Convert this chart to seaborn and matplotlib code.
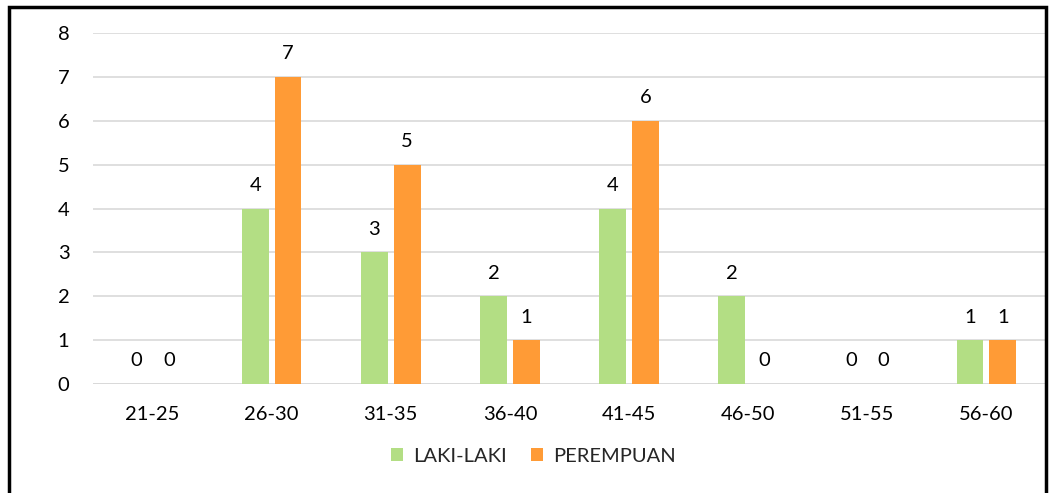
import numpy as np
import pandas as pd
import matplotlib
matplotlib.use("Agg")
import matplotlib.pyplot as plt
from matplotlib.patches import Rectangle
import seaborn as sns

# data
kelompok_umur = ['21-25', '26-30', '31-35', '36-40', '41-45', '46-50', '51-55', '56-60']
laki_laki = [0, 4, 3, 2, 4, 2, 0, 1]
perempuan = [0, 7, 5, 1, 6, 0, 0, 1]
y_ticks = [0, 1, 2, 3, 4, 5, 6, 7, 8]

df = pd.DataFrame({
    'umur': kelompok_umur * 2,
    'jumlah': laki_laki + perempuan,
    'jenis': ['LAKI-LAKI'] * len(laki_laki) + ['PEREMPUAN'] * len(perempuan),
})

sns.set_style('white')
plt.rcParams['font.family'] = ['Lato', 'DejaVu Sans']
fs = 14.5

fig = plt.figure(figsize=(10.51, 4.93), dpi=100)
ax = fig.add_axes([93 / 1051, 109 / 493, 953 / 1051, 351 / 493])

palette = {'LAKI-LAKI': '#B3DE84', 'PEREMPUAN': '#FF9B36'}
sns.barplot(data=df, x='umur', y='jumlah', hue='jenis', palette=palette,
            width=0.55, gap=0.18, saturation=1, linewidth=0, ax=ax, zorder=3, legend=True)

for c in ax.containers:
    ax.bar_label(c, fmt='%d', padding=10.5, fontsize=fs, color='#000000')

ax.set_ylim(0, 8)
ax.set_yticks(y_ticks)
ax.set_xlim(-0.5, len(kelompok_umur) - 0.5)
ax.yaxis.grid(True, color='#d9d9d9', linewidth=1.2, zorder=0)
ax.xaxis.grid(False)
for s in ax.spines.values():
    s.set_visible(False)
ax.axhline(0, color='#d9d9d9', linewidth=1.4, zorder=2)
ax.tick_params(axis='both', length=0, labelsize=fs, colors='#000000')
ax.tick_params(axis='y', pad=17)
ax.tick_params(axis='x', pad=16)
ax.set_xlabel('')
ax.set_ylabel('')

handles, labels = ax.get_legend_handles_labels()
ax.get_legend().remove()
fig.legend(handles, labels, loc='center', bbox_to_anchor=(533 / 1051, 37 / 493),
           ncol=2, frameon=False, fontsize=fs, handlelength=0.6, handleheight=0.6,
           columnspacing=1.2, handletextpad=0.5)

# black frame around the chart
fig.add_artist(Rectangle((9 / 1051, -0.05), 1037 / 1051, 1.036, transform=fig.transFigure,
                         fill=False, edgecolor='black', linewidth=2.5, zorder=10))

fig.savefig('out.png', dpi=100)
